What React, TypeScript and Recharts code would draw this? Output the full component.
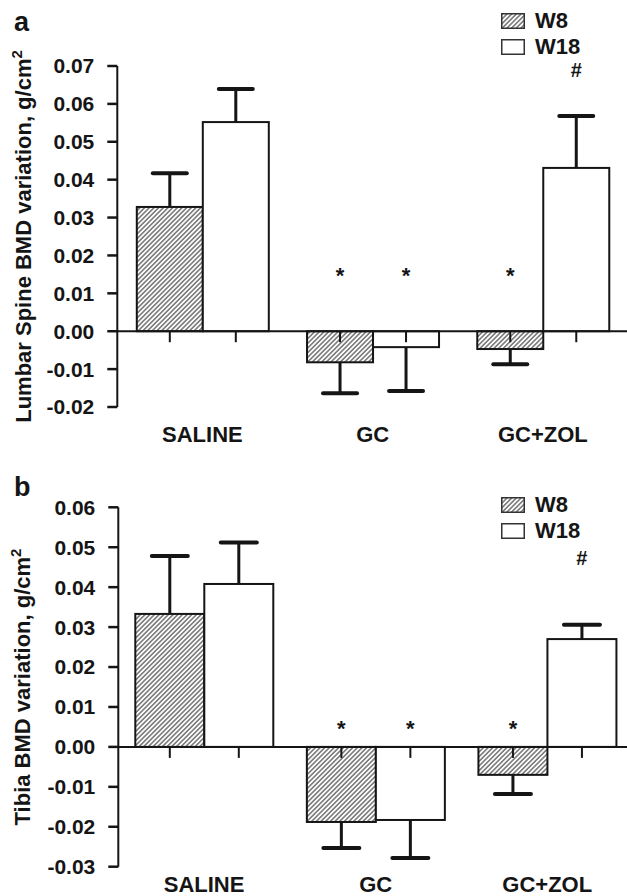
import React from 'react';
import { BarChart, Bar, XAxis, YAxis, ReferenceLine, LabelList, Legend } from 'recharts';

const groups = ['SALINE', 'GC', 'GC+ZOL'];

// panel a: lumbar spine BMD variation (g/cm2)
const spineW8 = [0.0328, -0.0082, -0.0047];
const spineW18 = [0.0552, -0.0042, 0.0431];
const spineSdW8 = [0.0089, 0.0082, 0.004];
const spineSdW18 = [0.0087, 0.0116, 0.0137];
const spineMarkAtW8 = [0, 0.0158, 0.0158];
const spineMarkAtW18 = [0, 0.0158, 0.0689];
const spineTicks = [-0.02, -0.01, 0, 0.01, 0.02, 0.03, 0.04, 0.05, 0.06, 0.07];
const spineMinor = [-0.015, -0.005, 0.005, 0.015, 0.025, 0.035, 0.045, 0.055, 0.065];

// panel b: tibia BMD variation (g/cm2)
const tibiaW8 = [0.0333, -0.0188, -0.007];
const tibiaW18 = [0.0408, -0.0183, 0.027];
const tibiaSdW8 = [0.0145, 0.0065, 0.0048];
const tibiaSdW18 = [0.0104, 0.0095, 0.0036];
const tibiaMarkAtW8 = [0, 0.0058, 0.0058];
const tibiaMarkAtW18 = [0, 0.0058, 0.0473];
const tibiaTicks = [-0.03, -0.02, -0.01, 0, 0.01, 0.02, 0.03, 0.04, 0.05, 0.06];
const tibiaMinor = [-0.025, -0.015, -0.005, 0.005, 0.015, 0.025, 0.035, 0.045, 0.055];

// significance marks (* vs saline, # vs GC)
const marksW8 = ['', '*', '*'];
const marksW18 = ['', '*', '#'];

const seriesKeys = ['w8', 'w18'];

const INK = '#151515';
const FONT = '"Liberation Sans", Arial, Helvetica, sans-serif';

const buildRows = (
  w8: number[], w18: number[], sd8: number[], sd18: number[], at8: number[], at18: number[],
) =>
  groups.map((group, i) => ({
    group,
    w8: w8[i],
    w18: w18[i],
    // error segment stacked on top of the bar, pointing away from zero
    e8: Math.sign(w8[i]) * sd8[i],
    e18: Math.sign(w18[i]) * sd18[i],
    m8: at8[i],
    m18: at18[i],
    t8: marksW8[i],
    t18: marksW18[i],
  }));

const spineRows = buildRows(spineW8, spineW18, spineSdW8, spineSdW18, spineMarkAtW8, spineMarkAtW18);
const tibiaRows = buildRows(tibiaW8, tibiaW18, tibiaSdW8, tibiaSdW18, tibiaMarkAtW8, tibiaMarkAtW18);

const MainBar = (props: any) => {
  const { x, y, width, height, fill, payload, valueKey } = props;
  const positive = payload[valueKey] >= 0;
  const y0 = Math.min(y, y + height);
  const y1 = Math.max(y, y + height);
  const base = positive ? y1 : y0;
  const cx = x + width / 2;
  return (
    <g>
      <rect x={x} y={y0} width={width} height={y1 - y0} fill={fill} stroke={INK} strokeWidth={2} />
      <line x1={cx} x2={cx} y1={base} y2={base + 11} stroke={INK} strokeWidth={2} />
    </g>
  );
};

const Whisker = (props: any) => {
  const { x, y, width, height, payload, valueKey, cap } = props;
  const positive = payload[valueKey] >= 0;
  const y0 = Math.min(y, y + height);
  const y1 = Math.max(y, y + height);
  const end = positive ? y0 : y1;
  const cx = x + width / 2;
  return (
    <g>
      <line x1={cx} x2={cx} y1={y0} y2={y1} stroke={INK} strokeWidth={3} />
      <line x1={cx - cap / 2} x2={cx + cap / 2} y1={end} y2={end} stroke={INK} strokeWidth={4} strokeLinecap="round" />
    </g>
  );
};

const MarkLabel = (props: any) => {
  const { x, y, width, value } = props;
  if (!value) return null;
  const hash = value === '#';
  return (
    <text
      x={x + width / 2}
      y={y + (hash ? 7 : 12)}
      textAnchor="middle"
      fontSize={hash ? 20 : 22}
      fontWeight="bold"
      fontFamily={FONT}
      fill={INK}
    >
      {value}
    </text>
  );
};

const LegendBox = ({ payload }: any) => {
  const items = (payload || [])
    .filter((entry: any) => seriesKeys.includes(entry.dataKey))
    .sort((a: any, b: any) => seriesKeys.indexOf(a.dataKey) - seriesKeys.indexOf(b.dataKey));
  return (
    <div style={{ fontFamily: FONT, fontWeight: 'bold', fontSize: 22, color: INK }}>
      {items.map((entry: any) => (
        <div key={entry.dataKey} style={{ display: 'flex', alignItems: 'center', height: 26 }}>
          <svg width={24} height={16} style={{ marginRight: 10 }}>
            <rect
              x={0.75}
              y={0.75}
              width={22.5}
              height={14.5}
              fill={entry.dataKey === 'w8' ? 'url(#hatch)' : '#fff'}
              stroke="#333"
              strokeWidth={1.5}
            />
          </svg>
          <span>{entry.value}</span>
        </div>
      ))}
    </div>
  );
};

type PanelProps = {
  rows: any[];
  ticks: number[];
  minor: number[];
  title: string;
  width: number;
  height: number;
  margin: { top: number; right: number; bottom: number; left: number };
  axisWidth: number;
  gap: number;
  cap: number;
  titleX: number;
  xAxisHeight: number;
  labelGap: number;
  legendTop: number;
};

const Panel = (p: PanelProps) => {
  const domain = [p.ticks[0], p.ticks[p.ticks.length - 1]];
  return (
    <BarChart
      width={p.width}
      height={p.height}
      data={p.rows}
      margin={p.margin}
      barCategoryGap={p.gap}
      barGap={0}
    >
      <XAxis
        dataKey="group"
        axisLine={false}
        tickLine={false}
        tickSize={0}
        tickMargin={p.labelGap}
        height={p.xAxisHeight}
        interval={0}
        tick={{ fontSize: 22, fontWeight: 'bold', fill: INK, fontFamily: FONT }}
      />
      <XAxis xAxisId="m" dataKey="group" hide />
      <YAxis
        type="number"
        domain={domain}
        ticks={p.ticks}
        interval={0}
        allowDataOverflow
        width={p.axisWidth}
        tickSize={10}
        tickMargin={13}
        tickFormatter={(v: number) => v.toFixed(2)}
        axisLine={{ stroke: INK, strokeWidth: 2 }}
        tickLine={{ stroke: INK, strokeWidth: 2.5 }}
        tick={{ fontSize: 21, fontWeight: 'bold', fill: INK, fontFamily: FONT }}
        label={{
          content: ({ viewBox }: any) => {
            const cy = viewBox.y + viewBox.height / 2;
            return (
              <text
                x={p.titleX}
                y={cy}
                transform={`rotate(-90 ${p.titleX} ${cy})`}
                textAnchor="middle"
                fontSize={22}
                fontWeight="bold"
                fontFamily={FONT}
                fill={INK}
              >
                {p.title}
                <tspan dy={-9} fontSize={15}>2</tspan>
              </text>
            );
          },
        }}
      />
      <YAxis
        yAxisId="minor"
        type="number"
        domain={domain}
        ticks={p.minor}
        interval={0}
        allowDataOverflow
        mirror
        width={0}
        axisLine={false}
        tick={false}
        tickSize={3}
        tickLine={{ stroke: INK, strokeWidth: 1 }}
      />
      <Legend
        layout="horizontal"
        verticalAlign="middle"
        align="center"
        content={<LegendBox />}
        wrapperStyle={{ top: p.legendTop, left: 501, width: 120, height: 60 }}
      />
      <ReferenceLine y={0} stroke={INK} strokeWidth={2} />
      <Bar
        dataKey="w8"
        name="W8"
        stackId="s8"
        fill="url(#hatch)"
        isAnimationActive={false}
        shape={(s: any) => <MainBar {...s} valueKey="w8" />}
      />
      <Bar
        dataKey="e8"
        stackId="s8"
        legendType="none"
        isAnimationActive={false}
        shape={(s: any) => <Whisker {...s} valueKey="e8" cap={p.cap} />}
      />
      <Bar
        dataKey="w18"
        name="W18"
        stackId="s18"
        fill="#fff"
        isAnimationActive={false}
        shape={(s: any) => <MainBar {...s} valueKey="w18" />}
      />
      <Bar
        dataKey="e18"
        stackId="s18"
        legendType="none"
        isAnimationActive={false}
        shape={(s: any) => <Whisker {...s} valueKey="e18" cap={p.cap} />}
      />
      <Bar xAxisId="m" dataKey="m8" fill="none" legendType="none" isAnimationActive={false}>
        <LabelList dataKey="t8" content={MarkLabel} />
      </Bar>
      <Bar xAxisId="m" dataKey="m18" fill="none" legendType="none" isAnimationActive={false}>
        <LabelList dataKey="t18" content={MarkLabel} />
      </Bar>
    </BarChart>
  );
};

const panelLetter = (letter: string, top: number) => (
  <div
    style={{
      position: 'absolute',
      left: 14,
      top,
      fontFamily: FONT,
      fontWeight: 'bold',
      fontSize: 27,
      lineHeight: 1,
      color: INK,
    }}
  >
    {letter}
  </div>
);

export default function App() {
  return (
    <div style={{ position: 'relative', width: 627, height: 896, overflow: 'hidden', background: '#fff' }}>
      <style>{'body{margin:0}'}</style>
      <svg width={0} height={0} style={{ position: 'absolute' }}>
        <defs>
          <pattern id="hatch" patternUnits="userSpaceOnUse" width={3.3} height={3.3} patternTransform="rotate(45)">
            <rect width={3.3} height={3.3} fill="#fff" />
            <line x1={1.65} y1={0} x2={1.65} y2={3.3} stroke="#2b2b2b" strokeWidth={1} />
          </pattern>
        </defs>
      </svg>
      {panelLetter('a', 9)}
      {panelLetter('b', 474)}
      <div style={{ position: 'absolute', left: 0, top: 0 }}>
        <Panel
          rows={spineRows}
          ticks={spineTicks}
          minor={spineMinor}
          title="Lumbar Spine BMD variation, g/cm"
          width={628}
          height={450}
          margin={{ top: 66, right: 0, bottom: 13, left: 0 }}
          axisWidth={117.3}
          gap={19.5}
          cap={34}
          titleX={31}
          xAxisHeight={30}
          labelGap={19}
          legendTop={7.5}
        />
      </div>
      <div style={{ position: 'absolute', left: 0, top: 440 }}>
        <Panel
          rows={tibiaRows}
          ticks={tibiaTicks}
          minor={tibiaMinor}
          title="Tibia BMD variation, g/cm"
          width={633}
          height={456}
          margin={{ top: 67.3, right: 0, bottom: 4.3, left: 0 }}
          axisWidth={118.3}
          gap={17}
          cap={36}
          titleX={30}
          xAxisHeight={25}
          labelGap={10}
          legendTop={51.5}
        />
      </div>
    </div>
  );
}
